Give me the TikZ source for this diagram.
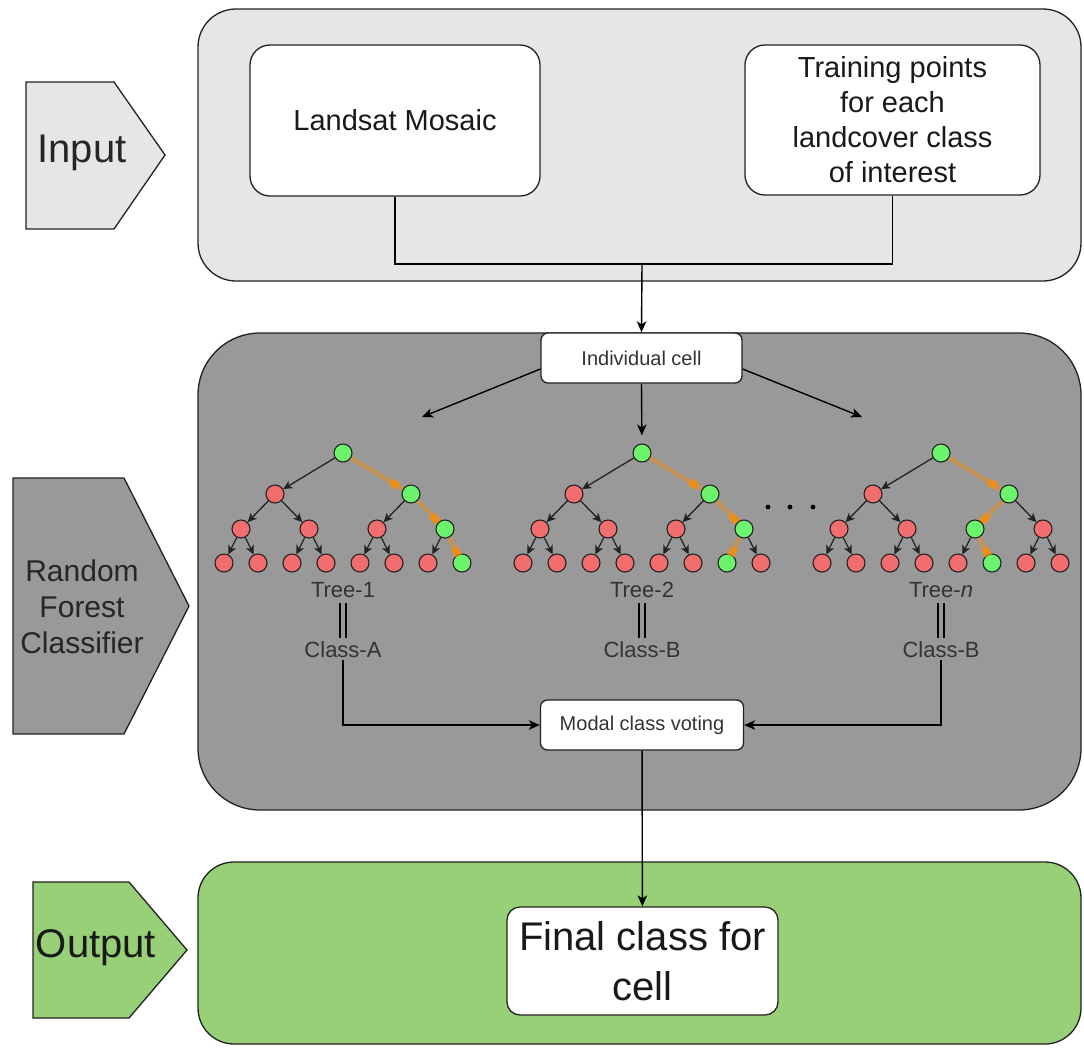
\documentclass[tikz,border=0pt]{standalone}
\usepackage{fontspec}
\setmainfont{Liberation Sans}
\usetikzlibrary{arrows.meta,decorations.markings}
\definecolor{lgray}{HTML}{E6E6E6}
\definecolor{mgray}{HTML}{999999}
\definecolor{lgreen}{HTML}{97D077}
\definecolor{nred}{RGB}{242,109,109}
\definecolor{ngreen}{RGB}{108,244,108}
\definecolor{orng}{RGB}{255,140,0}
\definecolor{edgec}{HTML}{222222}
\definecolor{txt}{HTML}{333333}

\newcommand\rftree[7]{%
 \node[nG] (#1r) at (#2,453) {};
 \node[nR] (#1a) at (#2-68,494) {};
 \node[nG] (#1b) at (#2+68,494) {};
 \node[nR] (#1aa) at (#2-102,529) {};
 \node[nR] (#1ab) at (#2-34,529) {};
 \node[n#3] (#1ba) at (#2+34,529) {};
 \node[n#4] (#1bb) at (#2+102,529) {};
 \node[nR] (#1aaa) at (#2-119,563) {};
 \node[nR] (#1aab) at (#2-85,563) {};
 \node[nR] (#1aba) at (#2-51,563) {};
 \node[nR] (#1abb) at (#2-17,563) {};
 \node[nR] (#1baa) at (#2+17,563) {};
 \node[n#5] (#1bab) at (#2+51,563) {};
 \node[n#6] (#1bba) at (#2+85,563) {};
 \node[n#7] (#1bbb) at (#2+119,563) {};
 \draw[eR] (#1r) -- (#1a);
 \draw[eG] (#1r) -- (#1b);
 \draw[eR] (#1a) -- (#1aa);
 \draw[eR] (#1a) -- (#1ab);
 \draw[eR] (#1aa) -- (#1aaa);
 \draw[eR] (#1aa) -- (#1aab);
 \draw[eR] (#1ab) -- (#1aba);
 \draw[eR] (#1ab) -- (#1abb);
 \draw[e#3] (#1b) -- (#1ba);
 \draw[e#4] (#1b) -- (#1bb);
 \draw[eR] (#1ba) -- (#1baa);
 \draw[e#5] (#1ba) -- (#1bab);
 \draw[e#6] (#1bb) -- (#1bba);
 \draw[e#7] (#1bb) -- (#1bbb);
}

\begin{document}
\begin{tikzpicture}[x=1pt,y=-1pt,
 panel/.style={draw=edgec, line width=1.3pt},
 wbox/.style={draw=edgec, fill=white, line width=1.3pt, rectangle, align=center, inner sep=0pt},
 nR/.style={circle, draw=edgec, fill=nred, line width=1.1pt, minimum size=18pt, inner sep=0pt},
 nG/.style={nR, fill=ngreen},
 eR/.style={draw=edgec, line width=1.3pt, -{Stealth[length=9pt,width=8.5pt,inset=2.5pt]}},
 eG/.style={draw=orng, draw opacity=.42, line width=4.5pt,
   postaction={decorate},
   decoration={markings, mark=at position .84 with {\fill[orng, fill opacity=.7] (-4.5pt,-4pt) rectangle (4.5pt,4pt);}}},
 conn/.style={draw=black, line width=1.4pt},
 arr/.style={conn, -{Stealth[length=11pt,width=9.5pt,inset=3pt]}},
 lab/.style={font=\fontsize{22}{26}\selectfont, text=txt, inner sep=2pt},
 dbl/.style={draw=black, line width=1.3pt, double=mgray, double distance=4.5pt, shorten <=3pt, shorten >=2pt},
]
\fill[white] (0,0) rectangle (1084,1050);
\useasboundingbox (0,0) rectangle (1084,1050);

% panels
\draw[panel, fill=lgray, rounded corners=38pt] (198,9) rectangle (1081,281);
\draw[panel, fill=mgray, rounded corners=62pt] (198,333) rectangle (1081,810);
\draw[panel, fill=lgreen, rounded corners=36pt] (198,862) rectangle (1081,1044);

% side pentagons
\draw[panel, fill=lgray] (26,82) -- (114,82) -- (165,155) -- (114,229) -- (26,229) -- cycle;
\node[font=\fontsize{40}{48}\selectfont, text=black!85] (inlab) at (82,153) {Input};
\draw[panel, fill=mgray] (13,478) -- (124,478) -- (189,606) -- (124,734) -- (13,734) -- cycle;
\node[align=center, font=\fontsize{30}{36}\selectfont, text=black!85] (rflab) at (82,607) {Random\\Forest\\Classifier};
\draw[panel, fill=lgreen] (33,882) -- (129,882) -- (187,950) -- (129,1018) -- (33,1018) -- cycle;
\node[font=\fontsize{40}{48}\selectfont, text=black!90] (outlab) at (96,948) {Output};

% boxes
\node[wbox, minimum width=290pt, minimum height=151pt, rounded corners=20pt, font=\fontsize{29}{35}\selectfont, text=black!90] (landsat) at (395,120.5) {Landsat Mosaic};
\node[wbox, minimum width=295pt, minimum height=150pt, rounded corners=20pt, font=\fontsize{29}{35}\selectfont, text=black!90] (train) at (892.5,120) {Training points\\for each\\landcover class\\of interest};
\node[wbox, minimum width=201pt, minimum height=50pt, rounded corners=7pt, font=\fontsize{20}{24}\selectfont, text=txt] (cell) at (641.5,358) {Individual cell};
\node[wbox, minimum width=203pt, minimum height=50pt, rounded corners=7pt, font=\fontsize{20}{24}\selectfont, text=txt] (modal) at (642,725) {Modal class voting};
\node[wbox, minimum width=271pt, minimum height=108pt, rounded corners=13pt, font=\fontsize{40}{50}\selectfont, text=black!90] (final) at (642.5,961) {Final class for\\cell};

% top connectors
\coordinate (junc) at (642,264);
\draw[conn] (landsat.south) |- (junc) -| (train.south);
\draw[arr] (junc) -- (cell.north);

% trees
\rftree{ta}{343}{R}{G}{R}{R}{G}
\rftree{tb}{642}{R}{G}{R}{G}{R}
\rftree{tc}{941}{G}{R}{G}{R}{R}

% arrows from individual cell
\coordinate (lt) at (422,417);
\coordinate (rt) at (862,417);
\draw[arr] ([yshift=-11pt]cell.west) -- (lt);
\draw[arr] ([yshift=-11pt]cell.east) -- (rt);
\draw[arr, shorten >=8pt] (cell.south) -- (tbr);

% dots
\fill (768,507) circle (2.4pt);
\fill (790,507) circle (2.4pt);
\fill (813,507) circle (2.4pt);

% labels
\node[lab] (la1) at (343,590) {Tree-1};
\node[lab] (ca1) at (343,650) {Class-A};
\node[lab] (la2) at (642,590) {Tree-2};
\node[lab] (ca2) at (642,650) {Class-B};
\node[lab] (la3) at (941,590) {Tree-\textit{n}};
\node[lab] (ca3) at (941,650) {Class-B};
\draw[dbl] (la1) -- (ca1);
\draw[dbl] (la2) -- (ca2);
\draw[dbl] (la3) -- (ca3);

% voting connectors
\draw[arr] (ca1.south) |- (modal.west);
\draw[arr] (ca3.south) |- (modal.east);
\draw[arr] (modal) -- (final);
\end{tikzpicture}
\end{document}
